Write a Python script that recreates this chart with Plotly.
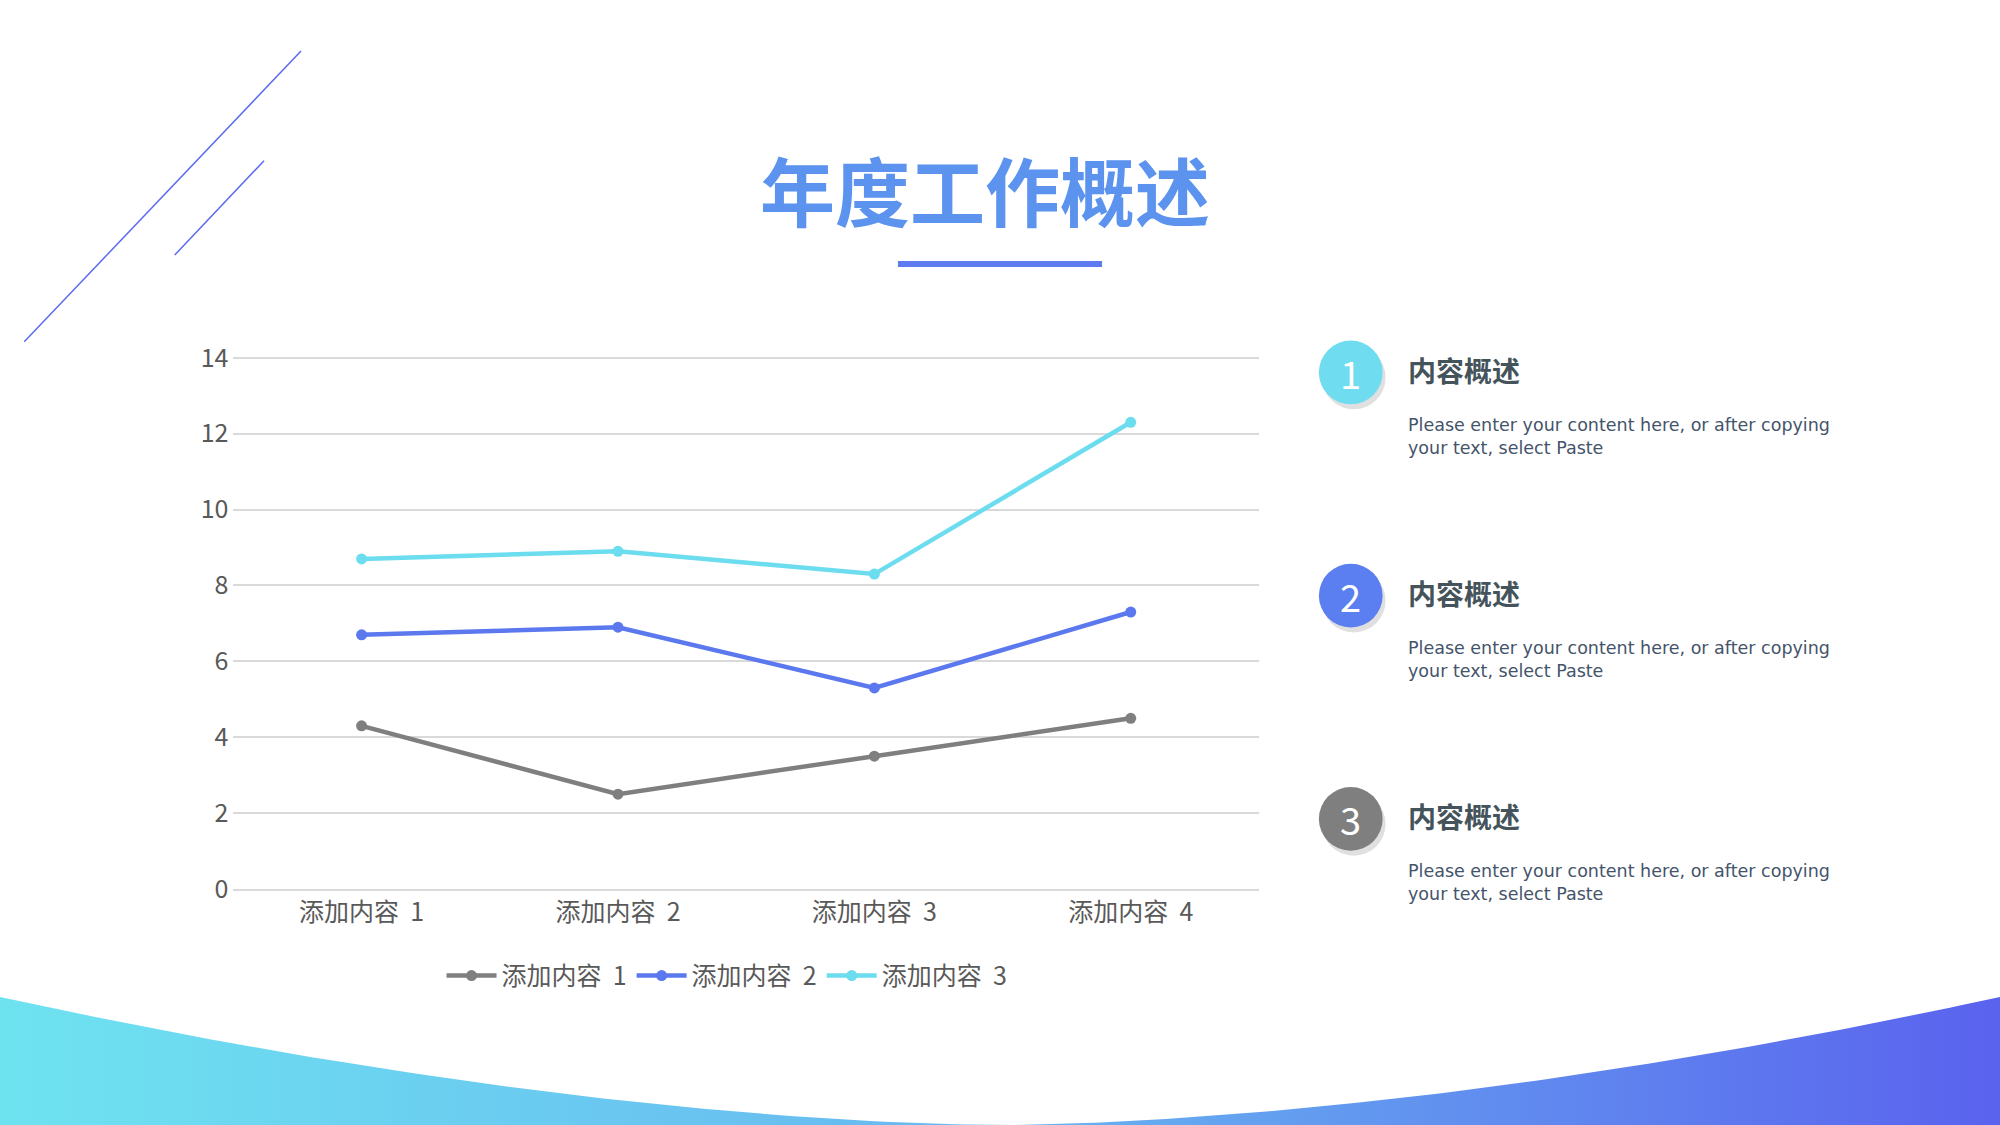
import numpy as np
import plotly.graph_objects as go

W, H = 2000, 1125
S = W / 1568  # reference layout scale

categories = ["添加内容  1", "添加内容  2", "添加内容  3", "添加内容  4"]
series_names = ["添加内容  1", "添加内容  2", "添加内容  3"]
series_values = [
    [4.3, 2.5, 3.5, 4.5],
    [6.7, 6.9, 5.3, 7.3],
    [8.7, 8.9, 8.3, 12.3],
]
series_colors = ["#7f7f7f", "#5b78ee", "#6cdcef"]
y_ticks = [0, 2, 4, 6, 8, 10, 12, 14]

item_numbers = ["1", "2", "3"]
item_titles = ["内容概述", "内容概述", "内容概述"]
item_body = "Please enter your content here, or after copying<br>your text, select Paste"
item_colors = ["#6fdcf0", "#5b7ff0", "#7f7f7f"]
item_y = [292, 467, 642]

FONT = "Noto Sans CJK SC"

fig = go.Figure()

for name, vals, col in zip(series_names, series_values, series_colors):
    fig.add_trace(go.Scatter(x=categories, y=vals, name=name, mode="lines+markers",
                             line=dict(color=col, width=4.5),
                             marker=dict(size=11, color=col)))

# bottom curved band (pixel axes)
xs = np.linspace(0, W, 200)
depth = 128 * np.abs((xs - 1000) / 1000) ** 1.7
top = H - depth
fig.add_trace(go.Scatter(x=np.concatenate([xs, xs[::-1]]),
                         y=np.concatenate([top, np.full_like(xs, H + 5)]),
                         fill="toself", mode="lines", line=dict(width=0),
                         fillgradient=dict(type="horizontal",
                                           colorscale=[[0, "#6ee3f0"], [0.5, "#67b6f0"], [1, "#5a62ee"]]),
                         xaxis="x2", yaxis="y2", showlegend=False, hoverinfo="skip"))

shapes = [
    dict(type="line", xref="x2", yref="y2", x0=19 * S, y0=268 * S, x1=236 * S, y1=40 * S,
         line=dict(color="#5b6bef", width=1.5)),
    dict(type="line", xref="x2", yref="y2", x0=137 * S, y0=200 * S, x1=207 * S, y1=126 * S,
         line=dict(color="#5b6bef", width=1.5)),
    dict(type="line", xref="x2", yref="y2", x0=704 * S, y0=207 * S, x1=864 * S, y1=207 * S,
         line=dict(color="#5b7bef", width=6)),
]
ann = [dict(xref="x2", yref="y2", x=772 * S, y=148 * S, text="<b>年度工作概述</b>", showarrow=False,
            font=dict(family=FONT, size=75, color="#5b93ee"))]

r = 25 * S
for num, title, col, cy in zip(item_numbers, item_titles, item_colors, item_y):
    cx = 1059 * S
    cyp = cy * S
    shapes.append(dict(type="circle", xref="x2", yref="y2", x0=cx - r + 3, y0=cyp - r + 5,
                       x1=cx + r + 3, y1=cyp + r + 5, fillcolor="rgba(0,0,0,0.12)", line=dict(width=0)))
    shapes.append(dict(type="circle", xref="x2", yref="y2", x0=cx - r, y0=cyp - r,
                       x1=cx + r, y1=cyp + r, fillcolor=col, line=dict(width=0)))
    ann.append(dict(xref="x2", yref="y2", x=cx, y=cyp, text=num, showarrow=False,
                    font=dict(family=FONT, size=38, color="white")))
    ann.append(dict(xref="x2", yref="y2", x=1102 * S, y=(cy - 2) * S, text="<b>" + title + "</b>",
                    showarrow=False, xanchor="left", font=dict(family=FONT, size=28, color="#44545a")))
    ann.append(dict(xref="x2", yref="y2", x=1102 * S, y=(cy + 50) * S, text=item_body,
                    showarrow=False, xanchor="left", align="left",
                    font=dict(family="DejaVu Sans", size=17.5, color="#44546a")))

fig.update_layout(
    width=W, height=H, margin=dict(l=0, r=0, t=0, b=0, autoexpand=False),
    paper_bgcolor="white", plot_bgcolor="rgba(0,0,0,0)",
    font=dict(family=FONT, color="#595959", size=25),
    xaxis=dict(domain=[183 * S / W, 987 * S / W], showgrid=False, showline=True, automargin=False,
               linecolor="#d9d9d9", linewidth=1.5, ticks="", tickfont=dict(size=25),
               range=[-0.5, 3.5]),
    yaxis=dict(domain=[1 - 697 * S / H, 1 - 279 * S / H], range=[0, 14.05], tickvals=y_ticks,
               showgrid=True, gridcolor="#d9d9d9", gridwidth=1.5, zeroline=False, automargin=False,
               ticks="", ticklabelstandoff=4, tickfont=dict(size=25)),
    xaxis2=dict(domain=[0, 1], range=[0, W], visible=False, anchor="y2", fixedrange=True, automargin=False),
    yaxis2=dict(domain=[0, 1], range=[H, 0], visible=False, anchor="x2", fixedrange=True, automargin=False),
    legend=dict(orientation="h", x=570 * S / W, y=1 - 765 * S / H, xanchor="center", yanchor="middle",
                font=dict(size=25), itemwidth=50),
    shapes=shapes, annotations=ann,
)

fig.write_html("out.html", config={"displayModeBar": False},
               post_script="document.body.style.margin='0';")
